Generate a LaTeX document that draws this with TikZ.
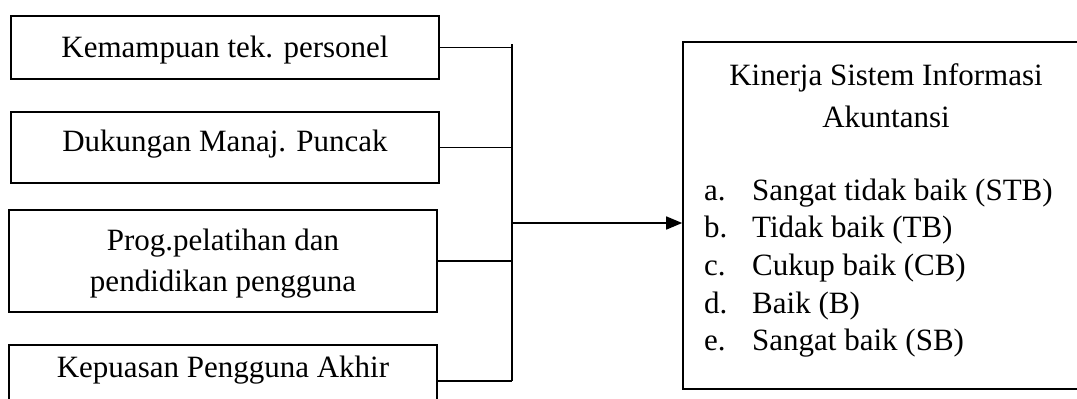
\documentclass[tikz,border=0pt]{standalone}
\usepackage{fontspec}
\setmainfont{Liberation Serif}
\usetikzlibrary{arrows.meta}
\begin{document}
\begin{tikzpicture}[x=1pt,y=-1pt,
  box/.style={draw,line width=1.6pt,rectangle,inner sep=0pt},
  txt/.style={inner sep=0pt,font=\fontsize{31}{41}\selectfont,anchor=base},
  ltxt/.style={txt,anchor=base west},
  conn/.style={line width=1.6pt}]
\useasboundingbox (0,0) rectangle (1077,399);
\clip (0,0) rectangle (1077,399);
% left boxes
\node[box,minimum width=428pt,minimum height=63pt] (b1) at (225,47.5) {};
\node[box,minimum width=428pt,minimum height=71pt] (b2) at (225,147.5) {};
\node[box,minimum width=428pt,minimum height=102pt] (b3) at (223,261) {};
\node[box,minimum width=428pt,minimum height=72pt] (b4) at (223,381) {};
\node[txt] (t1) at (225,57) {Kemampuan tek. personel};
\node[txt] (t2) at (225,151.5) {Dukungan Manaj. Puncak};
\node[txt] (t3a) at (223,250) {Prog.pelatihan dan};
\node[txt] (t3b) at (223,291) {pendidikan pengguna};
\node[txt] (t4) at (223,377) {Kepuasan Pengguna Akhir};
% right box
\node[box,minimum width=417pt,minimum height=347pt] (k) at (891.5,215.5) {};
\node[txt] (kt1) at (886,85) {Kinerja Sistem Informasi};
\node[txt] (kt2) at (886,127) {Akuntansi};
\node[ltxt] (la) at (704,200) {a.};
\node[ltxt] (lb) at (704,237.7) {b.};
\node[ltxt] (lc) at (704,275.4) {c.};
\node[ltxt] (ld) at (704,313.1) {d.};
\node[ltxt] (le) at (704,350.8) {e.};
\node[ltxt] (ia) at (752,200) {Sangat tidak baik (STB)};
\node[ltxt] (ib) at (752,237.7) {Tidak baik (TB)};
\node[ltxt] (ic) at (752,275.4) {Cukup baik (CB)};
\node[ltxt] (id) at (752,313.1) {Baik (B)};
\node[ltxt] (ie) at (752,350.8) {Sangat baik (SB)};
% bus
\coordinate (bt) at (512,44);
\coordinate (bb) at (512,381);
\coordinate (am) at (512,223);
\draw[conn] (bt) -- (bb);
\draw[conn] (b1.east) -- (b1.east -| bt);
\draw[conn] (b2.east) -- (b2.east -| bt);
\draw[conn] (b3.east) -- (b3.east -| bt);
\draw[conn] (b4.east |- bb) -- (bb);
\draw[conn,-{Triangle[length=16pt,width=13pt]}] (am) -- (am -| k.west);
\end{tikzpicture}
\end{document}
